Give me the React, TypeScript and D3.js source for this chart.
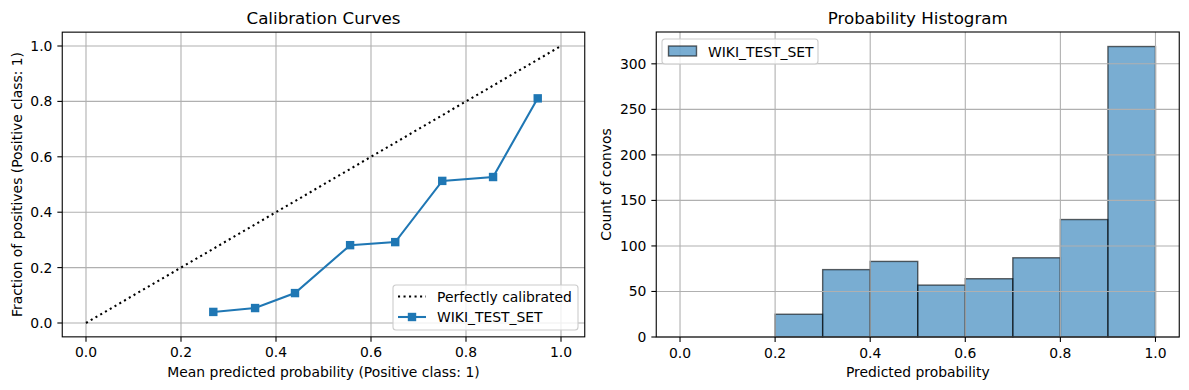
import React, { useEffect, useRef } from "react";
import * as d3 from "d3";

// calibration curve points
const meanPredicted = [0.268, 0.356, 0.44, 0.556, 0.651, 0.75, 0.857, 0.951];
const fractionPositives = [0.04, 0.054, 0.108, 0.281, 0.292, 0.513, 0.527, 0.811];

// histogram bins (0.0 - 1.0, 10 bins)
const binEdges = [0, 0.1, 0.2, 0.3, 0.4, 0.5, 0.6, 0.7, 0.8, 0.9, 1.0];
const binCounts = [0, 0, 25, 74, 83, 57, 64, 87, 129, 319];

const probTicks = [0, 0.2, 0.4, 0.6, 0.8, 1.0];
const fracTicks = [0, 0.2, 0.4, 0.6, 0.8, 1.0];
const countTicks = [0, 50, 100, 150, 200, 250, 300];

const seriesName = "WIKI_TEST_SET";
const BLUE = "#1f77b4";
const FONT = "DejaVu Sans, sans-serif";
const TICK_FS = 13.9;

export default function App() {
  const svgRef = useRef<SVGSVGElement>(null);

  useEffect(() => {
    const svg = d3.select(svgRef.current);
    svg.selectAll("*").remove();
    svg.append("rect").attr("width", 1189).attr("height", 390).attr("fill", "white");

    // shared helper: grid, ticks, tick labels
    const drawAxes = (g, x, y, xTicks, yTicks, fmtY, gridOnTop) => {
      const [x0, x1] = x.range();
      const [y0, y1] = y.range();
      const grid = g.append("g").attr("class", "grid");
      xTicks.forEach((t) => {
        grid.append("line").attr("x1", x(t)).attr("x2", x(t)).attr("y1", y0).attr("y2", y1)
          .attr("stroke", "#b0b0b0").attr("stroke-width", 1.1);
      });
      yTicks.forEach((t) => {
        grid.append("line").attr("x1", x0).attr("x2", x1).attr("y1", y(t)).attr("y2", y(t))
          .attr("stroke", "#b0b0b0").attr("stroke-width", 1.1);
      });
      if (gridOnTop) grid.raise();

      const ax = g.append("g").attr("font-family", FONT).attr("font-size", TICK_FS).attr("fill", "#000");
      xTicks.forEach((t) => {
        ax.append("line").attr("x1", x(t)).attr("x2", x(t)).attr("y1", y0).attr("y2", y0 + 4.9)
          .attr("stroke", "#000").attr("stroke-width", 1.1);
        ax.append("text").attr("x", x(t)).attr("y", y0 + 20.5).attr("text-anchor", "middle").text(d3.format(".1f")(t));
      });
      yTicks.forEach((t) => {
        ax.append("line").attr("x1", x0).attr("x2", x0 - 4.9).attr("y1", y(t)).attr("y2", y(t))
          .attr("stroke", "#000").attr("stroke-width", 1.1);
        ax.append("text").attr("x", x0 - 9.8).attr("y", y(t)).attr("dy", "0.36em").attr("text-anchor", "end").text(fmtY(t));
      });
      return ax;
    };

    const frame = (g, x, y) => {
      const [x0, x1] = x.range();
      const [y0, y1] = y.range();
      g.append("rect").attr("x", x0).attr("y", y1).attr("width", x1 - x0).attr("height", y0 - y1)
        .attr("fill", "none").attr("stroke", "#000").attr("stroke-width", 1.1);
    };

    const labels = (g, x, y, title, xl, yl, ylx) => {
      const [x0, x1] = x.range();
      const [y0, y1] = y.range();
      const cx = (x0 + x1) / 2;
      const cy = (y0 + y1) / 2;
      g.append("text").attr("x", cx).attr("y", 24).attr("text-anchor", "middle")
        .attr("font-family", FONT).attr("font-size", 16.7).text(title);
      g.append("text").attr("x", cx).attr("y", 377).attr("text-anchor", "middle")
        .attr("font-family", FONT).attr("font-size", TICK_FS).text(xl);
      g.append("text").attr("transform", `translate(${ylx},${cy}) rotate(-90)`).attr("text-anchor", "middle")
        .attr("font-family", FONT).attr("font-size", TICK_FS).text(yl);
    };

    // ---------- Left: calibration curves ----------
    const left = svg.append("g");
    const xL = d3.scaleLinear().domain([-0.05, 1.05]).range([62.25, 584.75]);
    const yL = d3.scaleLinear().domain([-0.05, 1.05]).range([336.85, 32.15]);
    drawAxes(left, xL, yL, probTicks, fracTicks, d3.format(".1f"), false);

    left.append("line").attr("x1", xL(0)).attr("y1", yL(0)).attr("x2", xL(1)).attr("y2", yL(1))
      .attr("stroke", "#000").attr("stroke-width", 2.08).attr("stroke-dasharray", "2.08,3.43");

    const pts = meanPredicted.map((m, i) => [m, fractionPositives[i]]);
    const line = d3.line().x((d) => xL(d[0])).y((d) => yL(d[1]));
    left.append("path").attr("d", line(pts)).attr("fill", "none").attr("stroke", BLUE).attr("stroke-width", 2.08);
    left.selectAll("rect.mk").data(pts).enter().append("rect").attr("class", "mk")
      .attr("x", (d) => xL(d[0]) - 4.2).attr("y", (d) => yL(d[1]) - 4.2)
      .attr("width", 8.4).attr("height", 8.4).attr("fill", BLUE);
    frame(left, xL, yL);
    labels(left, xL, yL, "Calibration Curves", "Mean predicted probability (Positive class: 1)",
      "Fraction of positives (Positive class: 1)", 22);

    // legend lower right
    const lgL = left.append("g").attr("transform", "translate(393,285)");
    lgL.append("rect").attr("width", 185).attr("height", 45).attr("rx", 3)
      .attr("fill", "white").attr("fill-opacity", 0.8).attr("stroke", "#cccccc").attr("stroke-width", 1.1);
    lgL.append("line").attr("x1", 5).attr("x2", 33).attr("y1", 11.5).attr("y2", 11.5)
      .attr("stroke", "#000").attr("stroke-width", 2.08).attr("stroke-dasharray", "2.08,3.43");
    lgL.append("line").attr("x1", 5).attr("x2", 33).attr("y1", 32).attr("y2", 32)
      .attr("stroke", BLUE).attr("stroke-width", 2.08);
    lgL.append("rect").attr("x", 19 - 4.2).attr("y", 32 - 4.2).attr("width", 8.4).attr("height", 8.4).attr("fill", BLUE);
    lgL.append("text").attr("x", 44).attr("y", 11.5).attr("dy", "0.36em")
      .attr("font-family", FONT).attr("font-size", TICK_FS).text("Perfectly calibrated");
    lgL.append("text").attr("x", 44).attr("y", 32).attr("dy", "0.36em")
      .attr("font-family", FONT).attr("font-size", TICK_FS).text(seriesName);

    // ---------- Right: probability histogram ----------
    const right = svg.append("g");
    const xR = d3.scaleLinear().domain([-0.05, 1.05]).range([656.25, 1179.25]);
    const yR = d3.scaleLinear().domain([0, 334.95]).range([337, 32]);
    const bins = binCounts.map((c, i) => ({ x0: binEdges[i], x1: binEdges[i + 1], c }));
    right.selectAll("rect.bar").data(bins.filter((b) => b.c > 0)).enter().append("rect").attr("class", "bar")
      .attr("x", (d) => xR(d.x0)).attr("width", (d) => xR(d.x1) - xR(d.x0))
      .attr("y", (d) => yR(d.c)).attr("height", (d) => yR(0) - yR(d.c))
      .attr("fill", BLUE).attr("fill-opacity", 0.6)
      .attr("stroke", "#000").attr("stroke-opacity", 0.6).attr("stroke-width", 1.4);
    drawAxes(right, xR, yR, probTicks, countTicks, d3.format("d"), true);
    frame(right, xR, yR);
    labels(right, xR, yR, "Probability Histogram", "Predicted probability", "Count of convos", 611);

    const lgR = right.append("g").attr("transform", "translate(662,39)");
    lgR.append("rect").attr("width", 156).attr("height", 25).attr("rx", 3)
      .attr("fill", "white").attr("fill-opacity", 0.8).attr("stroke", "#cccccc").attr("stroke-width", 1.1);
    lgR.append("rect").attr("x", 6.5).attr("y", 7).attr("width", 28).attr("height", 10)
      .attr("fill", BLUE).attr("fill-opacity", 0.6).attr("stroke", "#000").attr("stroke-opacity", 0.6).attr("stroke-width", 1.4);
    lgR.append("text").attr("x", 46).attr("y", 12.5).attr("dy", "0.36em")
      .attr("font-family", FONT).attr("font-size", TICK_FS).text(seriesName);
  }, []);

  return (
    <svg
      ref={svgRef}
      width={1189}
      height={390}
      style={{ position: "absolute", left: 0, top: 0, display: "block" }}
    ></svg>
  );
}
